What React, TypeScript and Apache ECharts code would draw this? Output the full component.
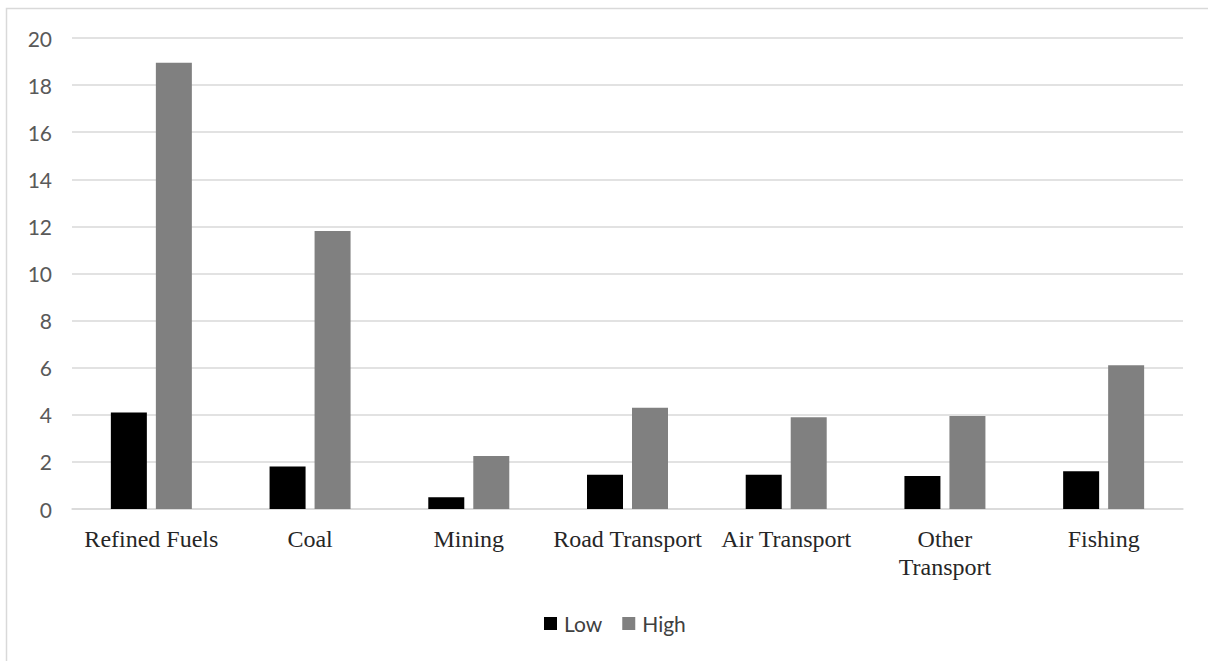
import React, { useEffect, useRef } from "react";
import * as echarts from "echarts";

const categories = ["Refined Fuels", "Coal", "Mining", "Road Transport", "Air Transport", "Other Transport", "Fishing"];
const lowValues = [4.1, 1.8, 0.5, 1.45, 1.45, 1.4, 1.6];
const highValues = [18.95, 11.8, 2.25, 4.3, 3.9, 3.95, 6.1];
const seriesNames = ["Low", "High"];

export default function App() {
  const ref = useRef<HTMLDivElement>(null);
  useEffect(() => {
    document.body.style.margin = "0";
    const chart = echarts.init(ref.current!, null, { renderer: "svg" });
    chart.setOption({
      animation: false,
      backgroundColor: "#ffffff",
      graphic: [
        {
          type: "rect",
          shape: { x: 6.5, y: 8.5, width: 1210, height: 660 },
          style: { fill: "none", stroke: "#d9d9d9", lineWidth: 1.5 },
          silent: true,
        },
      ],
      grid: { left: 72, right: 25, top: 38, bottom: 152 },
      legend: {
        data: seriesNames,
        left: 539,
        top: 608,
        icon: "rect",
        itemWidth: 13,
        itemHeight: 13,
        itemGap: 20,
        textStyle: { fontFamily: "Lato", fontSize: 21, color: "#404040", padding: [0, 0, 0, 2] },
      },
      xAxis: {
        type: "category",
        data: categories,
        axisLine: { lineStyle: { color: "#d9d9d9", width: 1.5 } },
        axisTick: { show: false },
        axisLabel: {
          interval: 0,
          margin: 16,
          fontFamily: "Liberation Serif",
          fontSize: 24,
          color: "#262626",
          lineHeight: 28,
          formatter: (v: string) => (v === "Other Transport" ? "Other\nTransport" : v),
        },
      },
      yAxis: {
        type: "value",
        min: 0,
        max: 20,
        interval: 2,
        axisLine: { show: false },
        axisTick: { show: false },
        splitLine: { lineStyle: { color: "#d9d9d9", width: 1.5 } },
        axisLabel: { fontFamily: "Lato", fontSize: 21, color: "#595959", margin: 20 },
      },
      series: [
        {
          name: seriesNames[0],
          type: "bar",
          data: lowValues,
          barWidth: 36,
          barGap: "25%",
          itemStyle: { color: "#000000" },
        },
        {
          name: seriesNames[1],
          type: "bar",
          data: highValues,
          barWidth: 36,
          barGap: "25%",
          itemStyle: { color: "#808080" },
        },
      ],
    });
    return () => chart.dispose();
  }, []);
  return <div ref={ref} style={{ width: 1208, height: 661 }} />;
}
